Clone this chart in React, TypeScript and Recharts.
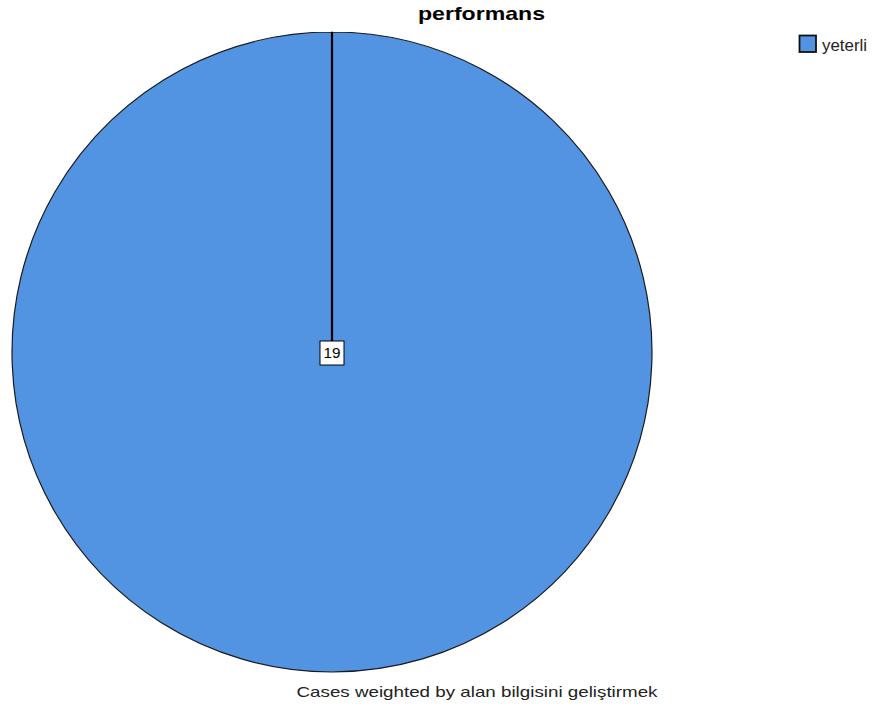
import React from "react";
import { PieChart, Pie, Cell, Legend } from "recharts";

const categories = ["yeterli"];
const values = [19];
const colors = ["#5294E2"];
const title = "performans";
const footnote = "Cases weighted by alan bilgisini geliştirmek";

const data = categories.map((name, i) => ({ name, value: values[i] }));

const FONT = "'Liberation Sans', Arial, sans-serif";

const renderLabel = (props: any) => {
  const { cx, cy, outerRadius, value } = props;
  return (
    <g>
      <line x1={cx} y1={cy} x2={cx} y2={cy - outerRadius} stroke="#000" strokeWidth={2.2} />
      <rect x={cx - 12} y={cy - 11} width={24} height={24} fill="#fff" stroke="#000" strokeWidth={1} />
      <text x={cx} y={cy + 6} textAnchor="middle" fontFamily={FONT} fontSize={15} fill="#000" textLength={17} lengthAdjust="spacingAndGlyphs">
        {value}
      </text>
    </g>
  );
};

const renderLegend = (props: any) => {
  const { payload } = props;
  return (
    <svg width={80} height={30 * (payload?.length || 1)}>
      {(payload || []).map((p: any, i: number) => (
        <g key={i}>
          <rect x={1.5} y={1.5 + i * 24} width={16.5} height={16.5} fill={p.color} stroke="#111" strokeWidth={1.8} />
          <text x={24} y={17 + i * 24} fontFamily={FONT} fontSize={16} fill="#222" textLength={45} lengthAdjust="spacingAndGlyphs">
            {p.value}
          </text>
        </g>
      ))}
    </svg>
  );
};

export default function App() {
  return (
    <div style={{ position: "absolute", left: 0, top: 0, width: 877, height: 712, background: "#fff" }}>
      <PieChart width={877} height={712} margin={{ top: 0, right: 0, bottom: 0, left: 0 }}>
        <text x={481.5} y={20} textAnchor="middle" fontFamily={FONT} fontWeight="bold" fontSize={19} fill="#000" textLength={127} lengthAdjust="spacingAndGlyphs">
          {title}
        </text>
        <Pie
          data={data}
          dataKey="value"
          nameKey="name"
          cx={332}
          cy={352}
          outerRadius={320}
          startAngle={90}
          endAngle={-270}
          stroke="#1a1a1a"
          strokeWidth={1.2}
          label={renderLabel}
          labelLine={false}
          isAnimationActive={false}
        >
          {data.map((d, i) => (
            <Cell key={d.name} fill={colors[i]} />
          ))}
        </Pie>
        <Legend
          layout="vertical"
          verticalAlign="top"
          align="right"
          content={renderLegend}
          wrapperStyle={{ position: "absolute", left: 798, top: 34, width: 80 }}
        />
        <text x={477} y={697} textAnchor="middle" fontFamily={FONT} fontSize={15} fill="#222" textLength={361} lengthAdjust="spacingAndGlyphs">
          {footnote}
        </text>
      </PieChart>
    </div>
  );
}
